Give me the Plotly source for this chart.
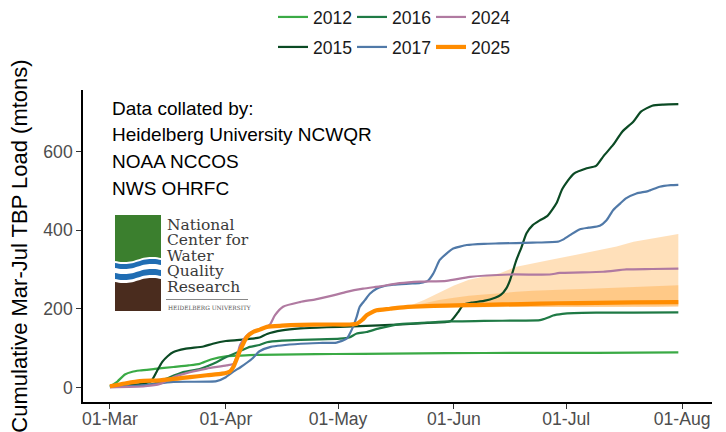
import math
import pandas as pd
import plotly.graph_objects as go

START = pd.Timestamp("2025-03-01")

# ---------------- data (day offsets from 01-Mar, cumulative load in mtons) ----------------
days_2012 = [0, 2, 4, 6, 8, 12, 17, 21, 24, 27, 31, 35, 40, 50, 60, 75, 90, 110, 130, 152]
vals_2012 = [2, 15, 33, 40, 43, 47, 52, 56, 60, 71, 79, 81, 83, 84, 85, 86, 87, 88, 88, 89]

days_2015 = [0, 5, 9, 11, 12.5, 14, 15.5, 17, 20, 25, 27.5, 31, 36, 38, 40, 42, 46, 51, 58, 65,
             72, 78, 85, 91, 93, 94.5, 97, 100, 103, 104.5, 106, 107, 108.7, 110, 111.4, 113,
             115, 117, 119.4, 121, 124, 127.5, 130, 132, 134.6, 137, 140, 142, 145, 148, 152]
vals_2015 = [3, 6, 10, 16, 40, 65, 80, 90, 98, 104, 111, 118, 122, 124, 127, 136, 145, 150, 153, 155,
             158, 160, 164, 168, 190, 210, 216, 220, 228, 235, 252, 273, 324, 355, 392, 412,
             425, 436, 468, 505, 543, 557, 563, 588, 617, 650, 676, 701, 716, 719, 720]

days_2016 = [0, 8, 12, 15, 19.6, 24, 28.5, 31, 35, 37.4, 40, 42, 46, 51, 56, 61.5, 64, 66, 68.6,
             72, 77.5, 85, 91, 100, 110, 115, 117, 118.5, 121, 124, 130, 140, 152]
vals_2016 = [2, 5, 10, 22, 39, 47, 64, 77, 93, 103, 108, 115, 119, 121, 122, 124, 127, 137, 141,
             150, 161, 165, 168, 169, 170, 171, 177, 183, 187, 189, 190, 190, 191]

days_2017 = [0, 8, 17, 28.5, 31, 33, 35, 38, 40, 43, 51, 56, 60.6, 63.3, 64.2, 65, 66, 66.8, 68.2,
             69.5, 71.3, 73, 75.8, 80, 83, 85, 86.5, 88.2, 90, 91.8, 93.6, 95.4, 100, 104, 113,
             120, 121, 123, 125.7, 128, 131, 132.8, 134.6, 136.5, 138.1, 140.8, 143.9, 147, 150, 152]
vals_2017 = [3, 5, 14, 16, 26, 40, 52, 73, 92, 103, 111, 113, 114, 124, 138, 154, 180, 205, 222,
             238, 251, 257, 261, 264, 266, 271, 290, 324, 340, 353, 358, 362, 365, 366, 368,
             371, 375, 387, 402, 406, 411, 425, 451, 468, 481, 493, 499, 510, 514, 515]

days_2024 = [0, 9.4, 13.4, 16.9, 21.4, 25.9, 31.2, 33, 34, 34.8, 36.6, 38.8, 41, 42.8, 44.1, 46.3,
             50.8, 55, 59.7, 63.3, 67.7, 72.2, 77.5, 83, 90, 96.3, 107, 117.6, 120.3, 131.9,
             138.1, 145, 152]
vals_2024 = [0, 3, 9, 26, 39, 48, 56, 60, 80, 108, 132, 145, 150, 160, 183, 205,
             217, 224, 234, 243, 251, 257, 265, 269, 271, 281, 287, 287, 291, 294,
             300, 301, 302]

days_2025 = [0, 4, 8, 13.4, 21.4, 25.9, 30, 32, 33, 34.8, 36.6, 38.3, 40.1, 42, 46, 51, 58, 64.2,
             66, 67.5, 68.6, 70, 71.3, 74.9, 77.5, 83, 90, 100, 110, 120, 130, 140, 152]
vals_2025 = [3, 10, 16, 18, 26, 31, 35, 40, 52, 94, 128, 141, 147, 154, 157, 159, 160, 160,
             162, 172, 183, 191, 196, 200, 203, 206, 208, 210, 212, 214, 215, 216, 217]

# 2025 outlook band
band_days = [76, 80, 84, 88, 92, 96, 100, 104.3, 108.7, 113, 117.6, 122, 126.6, 131, 135.5, 140, 146, 152]
band_lower = [202, 203, 204, 204, 204, 204, 204, 204, 204, 205, 205, 205, 205, 205, 205, 205, 205, 206]
band_inner_upper = [202, 207, 214, 222, 228, 233, 236, 240, 243, 246, 248, 249, 250, 252, 253, 255, 257, 260]
band_outer_upper = [202, 207, 222, 240, 259, 274, 282, 290, 307, 316, 324, 332, 341, 349, 358, 370, 380, 390]

series = [
    ("2012", days_2012, vals_2012, "#3aaa45", 2.2, "legend"),
    ("2015", days_2015, vals_2015, "#0b4a24", 2.2, "legend2"),
    ("2016", days_2016, vals_2016, "#1f7a45", 2.2, "legend"),
    ("2017", days_2017, vals_2017, "#5079a8", 2.2, "legend2"),
    ("2024", days_2024, vals_2024, "#b07aa1", 2.2, "legend"),
    ("2025", days_2025, vals_2025, "#ff8c00", 4.2, "legend2"),
]

tick_days = [0, 31, 61, 92, 122, 153]
tick_labels = ["01-Mar", "01-Apr", "01-May", "01-Jun", "01-Jul", "01-Aug"]
y_ticks = [0, 200, 400, 600]

credit_lines = ["Data collated by:", "Heidelberg University NCWQR", "NOAA NCCOS", "NWS OHRFC"]
logo_lines = ["National", "Center for", "Water", "Quality", "Research"]


def to_dates(days):
    return [START + pd.Timedelta(days=d) for d in days]


fig = go.Figure()

band_fill = "rgba(255,140,0,0.27)"
for upper in (band_outer_upper, band_inner_upper):
    fig.add_trace(go.Scatter(x=to_dates(band_days), y=band_lower, mode="lines",
                             line=dict(width=0), showlegend=False, hoverinfo="skip"))
    fig.add_trace(go.Scatter(x=to_dates(band_days), y=upper, mode="lines",
                             line=dict(width=0), fill="tonexty", fillcolor=band_fill,
                             showlegend=False, hoverinfo="skip"))

for name, d, v, color, width, leg in series:
    fig.add_trace(go.Scatter(x=to_dates(d), y=v, mode="lines", name=name, legend=leg,
                             line=dict(color=color, width=width, shape="spline", smoothing=0.6)))

# ---------------- layout geometry ----------------
W, H = 726, 432
ML, MR, MT, MB = 83, 14, 90, 30
PW, PH = W - ML - MR, H - MT - MB


def px(x):
    return (x - ML) / PW


def py(y):
    return (H - MB - y) / PH


annotations = []
for i, t in enumerate(credit_lines):
    annotations.append(dict(text=t, x=px(110), y=py(108 + i * 26.8), xref="paper", yref="paper",
                            xanchor="left", yanchor="middle", showarrow=False,
                            font=dict(size=19, color="#000000", family="Liberation Sans")))
for i, t in enumerate(logo_lines):
    annotations.append(dict(text=t, x=px(165), y=py(224.5 + i * 15.6), xref="paper", yref="paper",
                            xanchor="left", yanchor="middle", showarrow=False,
                            font=dict(size=15.5, color="#3a3a3a", family="DejaVu Serif")))
annotations.append(dict(text="HEIDELBERG UNIVERSITY", x=px(166), y=py(308), xref="paper", yref="paper",
                        xanchor="left", yanchor="middle", showarrow=False,
                        font=dict(size=5.8, color="#555555", family="DejaVu Serif")))


# logo graphic (green field, blue waves, brown earth)
LX, LY, LW, LH = 115, 215, 46, 96


def wave(x, base):
    return base + 1.8 * math.sin(2 * math.pi * x / LW) - 3.0 * x / LW


def band_path(top_base, bot_base, flat_top=False, flat_bot=False):
    n = 24
    xs = [LW * k / n for k in range(n + 1)]
    top = [(x, 0 if flat_top else wave(x, top_base)) for x in xs]
    bot = [(x, LH if flat_bot else wave(x, bot_base)) for x in reversed(xs)]
    pts = top + bot
    s = "M " + " L ".join(f"{px(LX + a):.5f},{py(LY + b):.5f}" for a, b in pts) + " Z"
    return s


shapes = [
    dict(type="path", path=band_path(0, 46, flat_top=True), xref="paper", yref="paper",
         fillcolor="#3b7f2e", line=dict(width=0)),
    dict(type="path", path=band_path(48, 53), xref="paper", yref="paper",
         fillcolor="#1f6db3", line=dict(width=0)),
    dict(type="path", path=band_path(58, 64), xref="paper", yref="paper",
         fillcolor="#1f6db3", line=dict(width=0)),
    dict(type="path", path=band_path(67, LH, flat_bot=True), xref="paper", yref="paper",
         fillcolor="#4a2c1e", line=dict(width=0)),
    dict(type="line", x0=px(166), x1=px(248), y0=py(299.5), y1=py(299.5), xref="paper", yref="paper",
         line=dict(color="#888888", width=1)),
]

legend_common = dict(orientation="h", xref="container", yref="container", xanchor="left",
                     yanchor="middle", font=dict(size=17.6, color="#1a1a1a", family="Liberation Sans"),
                     bgcolor="rgba(0,0,0,0)", entrywidth=34, entrywidthmode="pixels",
                     itemwidth=30, tracegroupgap=0, traceorder="normal")

fig.update_layout(
    width=W, height=H,
    margin=dict(l=ML, r=MR, t=MT, b=MB, autoexpand=False),
    paper_bgcolor="white", plot_bgcolor="white",
    font=dict(family="Liberation Sans", color="#000000"),
    legend=dict(x=273 / W, y=1 - 17 / H, **legend_common),
    legend2=dict(x=273 / W, y=1 - 47 / H, **legend_common),
    annotations=annotations,
    shapes=shapes,
    hovermode=False,
)

fig.update_xaxes(
    type="date", automargin=False,
    range=[START - pd.Timedelta(days=7.2), START + pd.Timedelta(days=161)],
    tickvals=to_dates(tick_days), ticktext=tick_labels,
    showgrid=False, zeroline=False,
    showline=True, linecolor="#000000", linewidth=1.6,
    ticks="outside", ticklen=5, tickcolor="#333333", tickwidth=1.2,
    ticklabelstandoff=-5,
    tickfont=dict(size=17.6, color="#4d4d4d", family="Liberation Sans"),
)
fig.update_yaxes(
    range=[-37, 756], automargin=False,
    tickvals=y_ticks,
    showgrid=False, zeroline=False,
    showline=True, linecolor="#000000", linewidth=1.6,
    ticks="outside", ticklen=5, tickcolor="#333333", tickwidth=1.2,
    tickfont=dict(size=17.6, color="#4d4d4d", family="Liberation Sans"),
    title=dict(text="Cumulative Mar-Jul TBP Load (mtons)", standoff=10,
               font=dict(size=22, color="#000000", family="Liberation Sans")),
)

fig.write_html(
    "out.html",
    config={"displayModeBar": False},
    post_script="document.body.style.margin='0';document.body.style.overflow='hidden';",
)
